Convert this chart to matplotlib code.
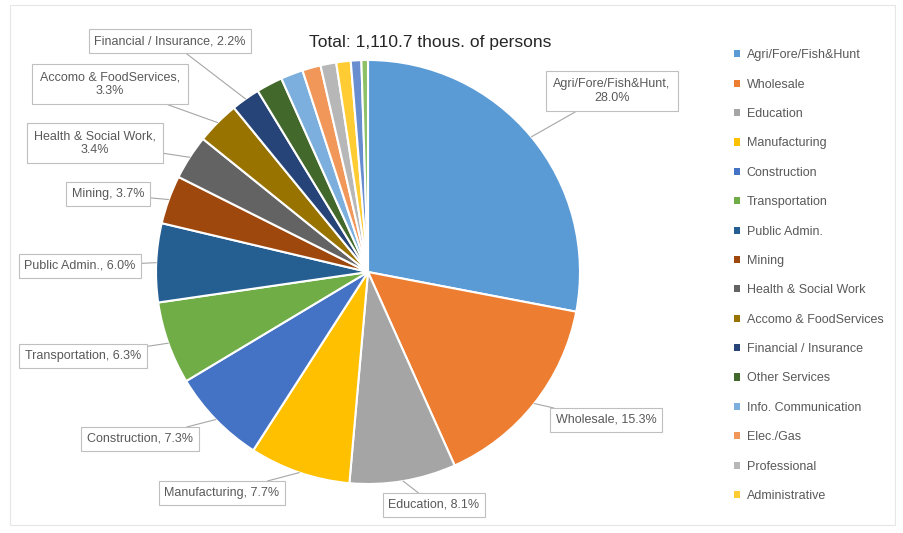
import matplotlib.pyplot as plt
from matplotlib.patches import Patch
import numpy as np

plt.rcParams['font.family'] = ['Liberation Sans', 'DejaVu Sans']

sectors = ["Agri/Fore/Fish&Hunt", "Wholesale", "Education", "Manufacturing",
           "Construction", "Transportation", "Public Admin.", "Mining",
           "Health & Social Work", "Accomo & FoodServices", "Financial / Insurance",
           "Other Services", "Info. Communication", "Elec./Gas", "Professional",
           "Administrative", "Other 1", "Other 2"]
shares = [28.0, 15.3, 8.1, 7.7, 7.3, 6.3, 6.0, 3.7, 3.4, 3.3, 2.2,
          2.0, 1.7, 1.4, 1.2, 1.1, 0.8, 0.5]
label_text = ["Agri/Fore/Fish&Hunt,\n28.0%", "Wholesale, 15.3%", "Education, 8.1%",
              "Manufacturing, 7.7%", "Construction, 7.3%", "Transportation, 6.3%",
              "Public Admin., 6.0%", "Mining, 3.7%", "Health & Social Work,\n3.4%",
              "Accomo & FoodServices,\n3.3%", "Financial / Insurance, 2.2%"]
colors = ["#5B9BD5", "#ED7D31", "#A5A5A5", "#FFC000", "#4472C4", "#70AD47",
          "#255E91", "#9E480E", "#636363", "#997300", "#264478", "#43682B",
          "#7CAFDD", "#F1975A", "#B7B7B7", "#FFCD33", "#698ED0", "#8CC168"]

# label box centres in pixels (from top-left of the image)
label_px = [(612, 91), (606, 420), (434, 505), (222, 493), (140, 439), (83, 356),
            (80, 266), (108, 194), (95, 143), (110, 84), (170, 41)]

W, H = 904, 533
cx, cy, r = 368, 272, 212

fig = plt.figure(figsize=(W / 100, H / 100), dpi=100)
ax = fig.add_axes([(cx - r) / W, (H - cy - r) / H, 2 * r / W, 2 * r / H])
wedges, _ = ax.pie(shares, colors=colors, startangle=90, counterclock=False,
                   radius=1, wedgeprops=dict(edgecolor="white", linewidth=1.5))
ax.set_xlim(-1, 1)
ax.set_ylim(-1, 1)
ax.set_aspect("equal")
ax.axis("off")

for i, txt in enumerate(label_text):
    w = wedges[i]
    mid = np.deg2rad((w.theta1 + w.theta2) / 2)
    px, py = label_px[i]
    tx, ty = (px - cx) / r, (cy - py) / r
    pad = 0.6 if "\n" in txt else 0.45
    ax.annotate(txt, xy=(np.cos(mid), np.sin(mid)), xytext=(tx, ty),
                ha="center", va="center", fontsize=9, color="#595959",
                multialignment="center", annotation_clip=False,
                bbox=dict(boxstyle=f"square,pad={pad}", fc="white", ec="#bfbfbf", lw=0.8),
                arrowprops=dict(arrowstyle="-", color="#a6a6a6", lw=0.8,
                                shrinkA=0, shrinkB=0))

fig.text(430 / W, 1 - 42 / H, "Total: 1,110.7 thous. of persons",
         ha="center", va="center", fontsize=12.5, color="#262626")

handles = [Patch(facecolor=c) for c in colors[:16]]
fig.legend(handles, sectors[:16], loc="upper left",
           bbox_to_anchor=(728 / W, 1 - 43 / H), frameon=False, fontsize=9,
           labelcolor="#595959", handlelength=0.5, handleheight=0.5,
           handletextpad=0.5, labelspacing=1.39, borderpad=0)

fig.add_artist(plt.Rectangle((10 / W, 8 / H), 885 / W, 520 / H, transform=fig.transFigure,
                             fill=False, ec="#e6e6e6", lw=0.8))

fig.savefig("out.png", dpi=100)
